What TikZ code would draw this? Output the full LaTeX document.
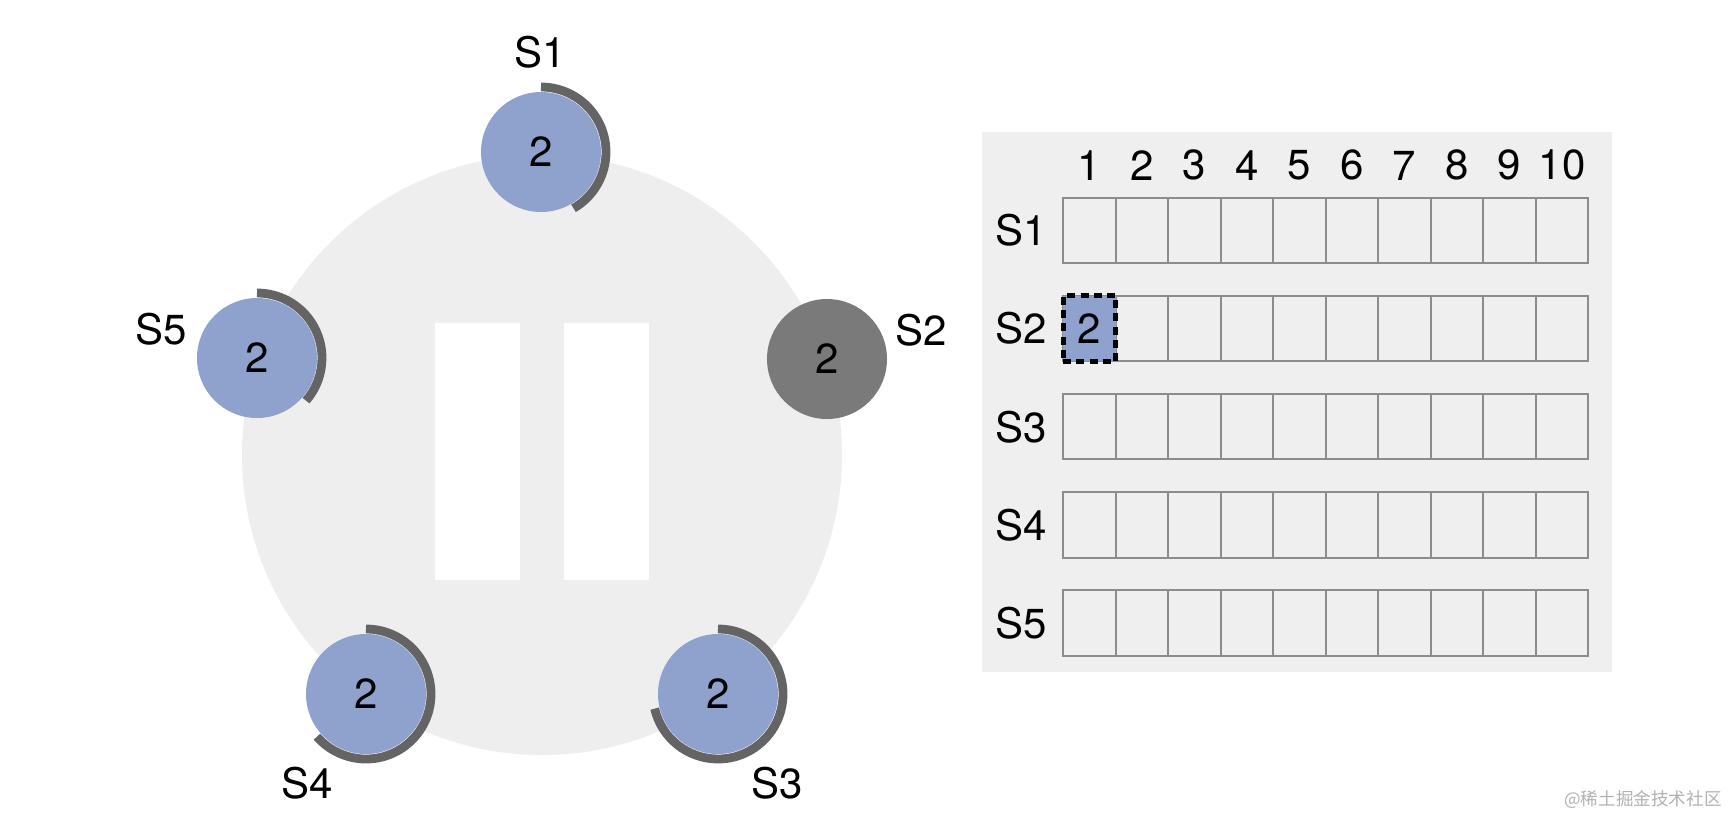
\documentclass[tikz,border=0pt]{standalone}
\usepackage{fontspec}
\setmainfont{TeX Gyre Heros}
\newfontfamily\cjk{Noto Sans CJK SC}
\usepackage{tikz}
\usetikzlibrary{positioning}
\definecolor{srvblue}{RGB}{143,162,205}
\definecolor{ringgray}{RGB}{238,238,238}
\definecolor{panelgray}{RGB}{239,239,239}
\definecolor{timergray}{RGB}{100,100,100}
\definecolor{downgray}{RGB}{122,122,122}
\definecolor{cellgray}{RGB}{140,140,140}

\begin{document}
\begin{tikzpicture}[x=0.5pt, y=0.5pt,
  txt/.style={font=\fontsize{21}{25}\selectfont, inner sep=0pt},
  srv/.style={circle, fill=srvblue, minimum size=60pt, inner sep=0pt, txt},
  srvdown/.style={srv, fill=downgray},
  timer/.style={draw=timergray, line width=4.4pt},
  cell/.style={draw=cellgray, line width=1pt, minimum width=26.25pt, minimum height=32.75pt, inner sep=0pt},
  hot/.style={cell, draw=black, fill=srvblue, line width=2.4pt, dash pattern=on 4pt off 2.6pt, txt}]
\useasboundingbox (0,0) rectangle (1730,-816);
\fill[white] (0,0) rectangle (1730,-816);
% cluster ring, paused
\fill[ringgray] (542,-455) circle[radius=150pt];
\fill[white] (435,-323) rectangle (520,-580);
\fill[white] (564,-323) rectangle (649,-580);
\node[srv] (s1) at (541,-152) {2};
\node[srvdown] (s2) at (827,-359) {2};
\node[srv] (s3) at (718,-694) {2};
\node[srv] (s4) at (366,-694) {2};
\node[srv] (s5) at (257,-358) {2};
\foreach \s/\e in {s1/-60,s3/-167,s4/-139,s5/-41}
  \draw[timer] (\s.center) ++(90:32.5pt) arc[start angle=90, end angle=\e, radius=32.5pt];
\node[txt] (l1) at (540,-52) {S1};
\node[txt] (l2) at (921,-330) {S2};
\node[txt] (l3) at (777,-783) {S3};
\node[txt] (l4) at (307,-783) {S4};
\node[txt] (l5) at (161,-329) {S5};
% log table
\fill[panelgray] (982,-132) rectangle (1612,-672);
\foreach \r in {1,...,5}
  \foreach \c in {1,...,10}
    \node[cell] (c\r-\c) at ({1089.5+(\c-1)*52.5},{-230.5-(\r-1)*98.1}) {};
\foreach \c in {1,...,10} \node[txt, above=8pt of c1-\c] (h\c) {\c};
\foreach \r in {1,...,5} \node[txt, left=7.5pt of c\r-1] (r\r) {S\r};
\node[hot] (hit) at (c2-1) {2};
\node[anchor=east, inner sep=0pt, font=\cjk\fontsize{8.8}{10}\selectfont, text=black!30] (wm) at (1722,-800) {@稀土掘金技术社区};
\end{tikzpicture}
\end{document}
